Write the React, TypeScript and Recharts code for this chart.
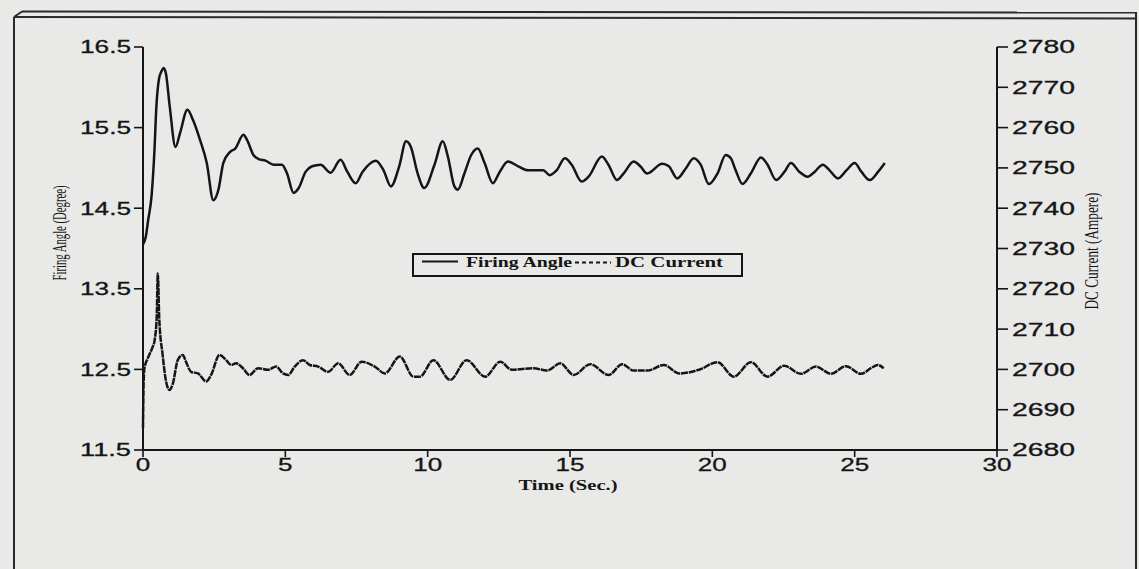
import React from 'react';
import { LineChart, Line, XAxis, YAxis, Legend } from 'recharts';

// ---- data ----
const firingTime = [
  0, 0.1, 0.18, 0.3, 0.4, 0.47, 0.56, 0.65, 0.72, 0.8, 0.94, 1.14, 1.3, 1.56, 1.76, 2.0, 2.24, 2.47, 2.65, 2.82,
  3.06, 3.24, 3.53, 3.65, 3.88, 4.06, 4.3, 4.59, 4.88, 5.06, 5.29, 5.47, 5.71, 5.94, 6.24, 6.59, 6.94, 7.18,
  7.47, 7.71, 8.18, 8.45, 8.71, 9.0, 9.24, 9.41, 9.65, 9.88, 10.24, 10.53, 10.71, 10.94, 11.06, 11.29, 11.53,
  11.76, 12.0, 12.29, 12.53, 12.82, 13.18, 13.53, 14.06, 14.29, 14.53, 14.82, 15.06, 15.41, 15.65, 16.12,
  16.35, 16.65, 16.88, 17.24, 17.47, 17.71, 18.24, 18.47, 18.77, 19.06, 19.35, 19.59, 19.88, 20.18, 20.47,
  20.65, 20.82, 21.06, 21.35, 21.71, 21.94, 22.24, 22.53, 22.76, 23.06, 23.35, 23.59, 23.88, 24.12, 24.41,
  24.71, 25.0, 25.24, 25.53, 25.82, 26.06,
];
const firingAngle = [
  14.05, 14.15, 14.35, 14.65, 15.2, 15.76, 16.1, 16.2, 16.24, 16.18, 15.76, 15.26, 15.43, 15.72, 15.59, 15.35, 15.06,
  14.6, 14.73, 15.06, 15.2, 15.24, 15.41, 15.35, 15.16, 15.11, 15.09, 15.04, 15.04, 14.93, 14.69, 14.75, 14.95,
  15.02, 15.04, 14.94, 15.1, 14.95, 14.81, 14.95, 15.09, 14.97, 14.77, 15.02, 15.33, 15.26, 14.93, 14.75, 15.04,
  15.33, 15.14, 14.77, 14.73, 14.93, 15.16, 15.24, 15.06, 14.81, 14.95, 15.08, 15.02, 14.97, 14.97, 14.91,
  14.97, 15.12, 15.04, 14.83, 14.89, 15.14, 15.04, 14.85, 14.93, 15.08, 15.02, 14.93, 15.05, 15.02, 14.87,
  14.99, 15.12, 15.04, 14.8, 14.93, 15.16, 15.12, 14.97, 14.8, 14.93, 15.13, 15.04, 14.85, 14.95, 15.06, 14.95,
  14.89, 14.95, 15.04, 14.97, 14.87, 14.97, 15.06, 14.95, 14.85, 14.95, 15.06,
];
const currentTime = [
  0, 0.02, 0.05, 0.17, 0.34, 0.4, 0.48, 0.52, 0.57, 0.69, 0.81, 0.93, 1.05, 1.22, 1.4, 1.51, 1.69, 1.93, 2.22,
  2.39, 2.69, 2.92, 3.1, 3.27, 3.51, 3.74, 4.04, 4.39, 4.68, 4.92, 5.1, 5.33, 5.62, 5.86, 6.15, 6.5, 6.86, 7.26,
  7.68, 8.14, 8.5, 9.02, 9.5, 9.73, 10.2, 10.79, 11.37, 12.02, 12.55, 12.96, 13.72, 14.19, 14.66, 15.13, 15.71,
  16.36, 16.83, 17.24, 17.71, 18.3, 18.83, 19.53, 20.18, 20.76, 21.35, 21.94, 22.52, 23.11, 23.64, 24.17, 24.69,
  25.22, 25.57, 25.81, 26.02,
];
const dcCurrent = [
  2685.4, 2696, 2700.3, 2702.8, 2705.6, 2706.9, 2712.7, 2723.8, 2712.7, 2703.6, 2697, 2694.9, 2696.5, 2702.3,
  2703.6, 2701.9, 2699.4, 2699, 2697, 2698.6, 2703.6, 2702.3, 2701.1, 2701.5, 2700.3, 2698.6, 2700.3, 2699.9,
  2700.7, 2699, 2698.6, 2700.7, 2702.3, 2701.1, 2700.7, 2699.4, 2701.5, 2698.6, 2701.9, 2700.7, 2699, 2703.2,
  2698.2, 2698.2, 2702.3, 2697.4, 2702.3, 2698.2, 2701.9, 2699.9, 2700.3, 2699.7, 2701.5, 2698.6, 2701.3,
  2698.6, 2701.3, 2699.7, 2699.7, 2701.1, 2699, 2699.9, 2701.8, 2698.2, 2701.8, 2698.2, 2700.9, 2698.9, 2700.7,
  2698.9, 2700.8, 2698.9, 2700.3, 2701.1, 2700.3,
];
const timeTicks = [0, 5, 10, 15, 20, 25, 30];
const angleTicks = [11.5, 12.5, 13.5, 14.5, 15.5, 16.5];
const currentTicks = [2680, 2690, 2700, 2710, 2720, 2730, 2740, 2750, 2760, 2770, 2780];
const seriesNames = ['Firing Angle', 'DC Current'];
const axisTitles = { x: 'Time (Sec.)', left: 'Firing Angle (Degree)', right: 'DC Current (Ampere)' };

const firingData = firingTime.map((t, i) => ({ t, angle: firingAngle[i] }));
const currentData = currentTime.map((t, i) => ({ t, current: dcCurrent[i] }));

// ---- styles ----
const W = 1139;
const H = 569;
const SANS = "'Liberation Sans', Arial, Helvetica, sans-serif";
const SERIF = "'Liberation Serif', 'Times New Roman', serif";
const INK = '#151515';
const PAPER = '#e9e9e8';

function LeftTick(props: any) {
  const { x, y, payload } = props;
  return (
    <text x={x} y={y} dy="0.36em" textAnchor="end" fontFamily={SANS} fontSize={18} fill={INK}
      stroke={INK} strokeWidth={0.3} textLength={51} lengthAdjust="spacingAndGlyphs">
      {Number(payload.value).toFixed(1)}
    </text>
  );
}

function RightTick(props: any) {
  const { x, y, payload } = props;
  return (
    <text x={x} y={y} dy="0.36em" textAnchor="start" fontFamily={SANS} fontSize={18} fill={INK}
      stroke={INK} strokeWidth={0.3} textLength={63} lengthAdjust="spacingAndGlyphs">
      {String(payload.value)}
    </text>
  );
}

function BottomTick(props: any) {
  const { x, y, payload } = props;
  const s = String(payload.value);
  return (
    <text x={x} y={y} dy="0.71em" textAnchor="middle" fontFamily={SANS} fontSize={18} fill={INK}
      stroke={INK} strokeWidth={0.3} textLength={s.length * 14.5} lengthAdjust="spacingAndGlyphs">
      {s}
    </text>
  );
}

function LegendBox(props: any) {
  const items: any[] = props.payload || [];
  const find = (key: string, fallback: string) => {
    const it = items.find((p) => p && p.dataKey === key);
    return (it && it.value) || fallback;
  };
  const n1 = find('angle', seriesNames[0]);
  const n2 = find('current', seriesNames[1]);
  return (
    <svg width={331} height={24} style={{ display: 'block' }}>
      <rect x={1} y={1} width={329} height={22} fill={PAPER} stroke={INK} strokeWidth={2} />
      <line x1={10} x2={46} y1={8.5} y2={8.5} stroke={INK} strokeWidth={2} />
      <text x={54} y={14} fontFamily={SERIF} fontWeight="bold" fontSize={14} fill={INK}
        textLength={106} lengthAdjust="spacingAndGlyphs">{n1}</text>
      <line x1={163} x2={199} y1={9.5} y2={9.5} stroke={INK} strokeWidth={2} strokeDasharray="4 3" />
      <text x={203} y={14} fontFamily={SERIF} fontWeight="bold" fontSize={14} fill={INK}
        textLength={108} lengthAdjust="spacingAndGlyphs">{n2}</text>
    </svg>
  );
}

const xTitle = () => (
  <text x={568} y={490} textAnchor="middle" fontFamily={SERIF} fontWeight="bold"
    fontSize={14} fill={INK} textLength={99} lengthAdjust="spacingAndGlyphs">{axisTitles.x}</text>
);
const leftTitle = () => (
  <text x={0} y={0} transform="translate(59,233) rotate(-90)" dominantBaseline="central" textAnchor="middle"
    fontFamily={SERIF} fontSize={19} fill={INK} textLength={95} lengthAdjust="spacingAndGlyphs">{axisTitles.left}</text>
);
const rightTitle = () => (
  <text x={0} y={0} transform="translate(1091,251) rotate(-90)" dominantBaseline="central" textAnchor="middle"
    fontFamily={SERIF} fontSize={19} fill={INK} textLength={117} lengthAdjust="spacingAndGlyphs">{axisTitles.right}</text>
);

const axisLine = { stroke: INK, strokeWidth: 2 };
const tickLine = { stroke: INK, strokeWidth: 1.6 };

export default function App() {
  return (
    <div style={{ position: 'absolute', left: 0, top: 0, width: W, height: H, background: PAPER, overflow: 'hidden' }}>
      <LineChart width={W} height={H} margin={{ top: 47, right: 0, bottom: 89, left: 0 }}>
        <XAxis xAxisId="main" dataKey="t" type="number" domain={[0, 30]} ticks={timeTicks} interval={0}
          allowDuplicatedCategory={false} height={30} tickSize={7} tickMargin={1}
          axisLine={axisLine} tickLine={tickLine} tick={<BottomTick />} label={xTitle} />
        <XAxis xAxisId="top" orientation="top" dataKey="t" type="number" domain={[0, 30]} height={0}
          tick={false} tickLine={false} axisLine={axisLine} />
        <YAxis yAxisId="left" orientation="left" type="number" domain={[11.5, 16.5]} ticks={angleTicks}
          interval={0} width={143} tickSize={9} tickMargin={3} axisLine={axisLine} tickLine={tickLine}
          tick={<LeftTick />} label={leftTitle} />
        <YAxis yAxisId="right" orientation="right" type="number" domain={[2680, 2780]} ticks={currentTicks}
          interval={0} width={142} tickSize={11} tickMargin={4} axisLine={axisLine} tickLine={tickLine}
          tick={<RightTick />} label={rightTitle} />
        <Legend content={<LegendBox />} layout="horizontal" verticalAlign="middle" align="center"
          wrapperStyle={{ position: 'absolute', left: 412, top: 253, width: 331, height: 24, margin: 0, padding: 0 }} />
        <Line data={firingData} xAxisId="main" yAxisId="left" dataKey="angle" name={seriesNames[0]} type="monotone"
          stroke={INK} strokeWidth={2.5} dot={false} activeDot={false} isAnimationActive={false} />
        <Line data={currentData} xAxisId="main" yAxisId="right" dataKey="current" name={seriesNames[1]} type="monotone"
          stroke={INK} strokeWidth={2.5} strokeDasharray="7 0.8" dot={false} activeDot={false} isAnimationActive={false} />
      </LineChart>
      <svg width={W} height={H} style={{ position: 'absolute', left: 0, top: 0, pointerEvents: 'none' }}>
        <g stroke="#2a2a2a" strokeWidth={2} fill="none">
          <line x1={22} y1={11.5} x2={1137} y2={12.5} />
          <line x1={14} y1={17} x2={1137} y2={18.5} />
          <line x1={14} y1={17} x2={22} y2={11.5} />
          <line x1={14} y1={17} x2={14} y2={569} />
          <line x1={1136} y1={12} x2={1136} y2={569} />
        </g>
      </svg>
    </div>
  );
}
